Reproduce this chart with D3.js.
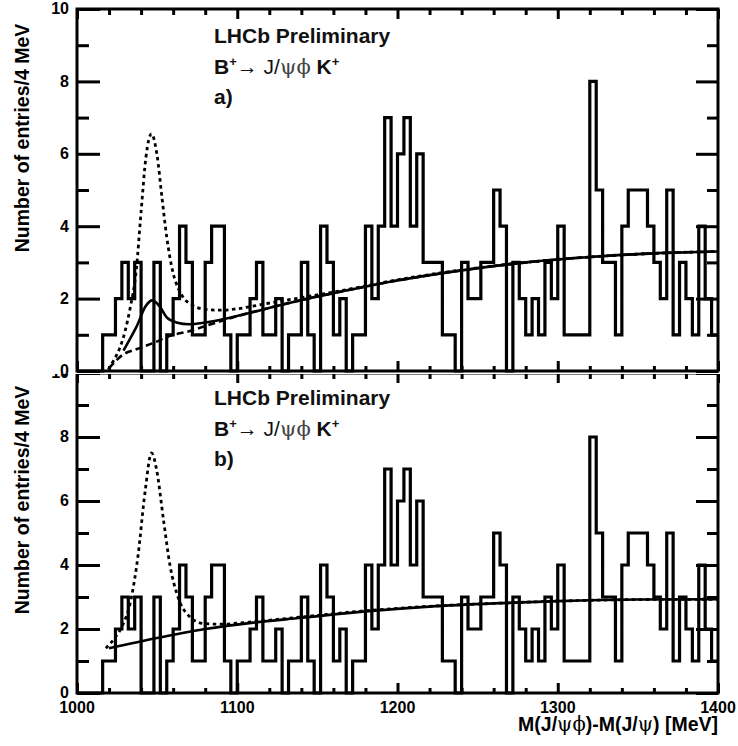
<!DOCTYPE html>
<html><head><meta charset="utf-8">
<script src="https://cdn.jsdelivr.net/npm/d3@7"></script>
<style>body{margin:0;background:#fff}svg{display:block}</style>
</head><body>
<svg id="c" width="738" height="746"></svg>
<script>
// ---- data ----
const binStart = 1000, binWidth = 4;
const counts = [0,0,0,0,1,1,2,3,2,3, 0,0,3,0,1,2,4,3,1,1, 3,4,4,1,0,1,1,2,3,1,
  1,2,0,1,1,3,1,0,4,3, 1,2,0,1,1,4,2,4,7,4, 6,7,4,6,3,3,3,1,1,0,
  3,2,2,3,3,5,4,0,3,2, 1,2,1,3,2,4,1,1,1,1, 8,5,3,3,1,4,5,5,5,4,
  3,2,5,1,3,2,1,4,2,1];
const xMajorTicks = [1000,1100,1200,1300,1400];
const yMajorTicks = [0,2,4,6,8,10];
// panel a fit curves
const bkgA = [[1020,0.08],[1029,0.46],[1037,0.6],[1048,0.78],[1058,0.97],[1070,1.1],[1080,1.24],[1098,1.49],[1118,1.72],[1139,1.95],[1160,2.15],[1200,2.5],[1240,2.78],[1280,3.0],[1320,3.15],[1360,3.25],[1400,3.3]];
const totalA = [[1029,0.56],[1033,0.88],[1037,1.21],[1043,1.8],[1047,1.95],[1052,1.76],[1056,1.48],[1062,1.34],[1070,1.29],[1080,1.34],[1098,1.5],[1118,1.72],[1139,1.95],[1160,2.15],[1200,2.5],[1240,2.78],[1280,3.0],[1320,3.15],[1360,3.25],[1400,3.3]];
const expectA = [[1019.5,0.05],[1023,0.3],[1027,0.67],[1030,1.1],[1033,1.7],[1037,2.8],[1040,4.4],[1043,5.9],[1046.5,6.55],[1050,5.95],[1053,4.8],[1056,3.7],[1060,2.7],[1063,2.3],[1066,2.05],[1072,1.82],[1080,1.7],[1090,1.68],[1100,1.72],[1118,1.86],[1139,2.02],[1160,2.18],[1200,2.52],[1240,2.79],[1280,3.0],[1320,3.15],[1360,3.25],[1400,3.3]];
// panel b fit curves
const bkgB = [[1020,1.4],[1050,1.72],[1080,2.0],[1110,2.2],[1140,2.35],[1180,2.55],[1220,2.7],[1260,2.8],[1300,2.87],[1350,2.92],[1400,2.93]];
const expectB = [[1018,1.4],[1024,1.75],[1028,2.07],[1034,3.0],[1038,4.26],[1042.5,6.3],[1046.5,7.5],[1049.7,6.97],[1054,5.4],[1058,4.0],[1063,3.0],[1070,2.4],[1079,2.17],[1090,2.15],[1104,2.2],[1139,2.37],[1180,2.57],[1220,2.71],[1260,2.8],[1300,2.87],[1350,2.92],[1400,2.93]];

const yTitle = "Number of entries/4 MeV";
const xTitle = ["M(J/", "ψϕ", ")-M(J/", "ψ", ") [MeV]"];

// ---- drawing ----
const svg = d3.select("#c");
const FONT = "'Liberation Sans', Arial, Helvetica, sans-serif";
const SYM = "'DejaVu Serif', serif";
const x = d3.scaleLinear().domain([1000,1400]).range([77,718]);

const histPts = counts.map((c,i)=>[binStart+i*binWidth, c]);
histPts.push([binStart+counts.length*binWidth, counts[counts.length-1]]);

function drawPanel(g, y, opts){
  g.append("rect").attr("x",0).attr("y",opts.bgTop).attr("width",738).attr("height",opts.bgH).attr("fill","#fff");
  const hl = d3.line().x(d=>x(d[0])).y(d=>y(d[1])).curve(d3.curveStepAfter);
  g.append("path").attr("d",hl(histPts)).attr("fill","none").attr("stroke","#000").attr("stroke-width",3.2).attr("stroke-linejoin","miter");
  const cl = d3.line().x(d=>x(d[0])).y(d=>y(d[1])).curve(d3.curveMonotoneX);
  opts.curves.forEach(c=>{
    g.append("path").attr("d",cl(c.data)).attr("fill","none").attr("stroke","#000")
      .attr("stroke-width",c.w).attr("stroke-dasharray",c.dash||null);
  });
  g.append("rect").attr("x",x(1000)).attr("y",y(10)).attr("width",x(1400)-x(1000)).attr("height",y(0)-y(10))
    .attr("fill","none").attr("stroke","#000").attr("stroke-width",3);
  const minorX = d3.range(1000,1401,20).filter(v=>v%100!==0);
  const minorY = d3.range(0,11,1).filter(v=>v%2!==0);
  const axStyle = sel=>{sel.select(".domain").remove(); sel.selectAll("line").attr("stroke","#000").attr("stroke-width",3);};
  g.append("g").attr("transform",`translate(0,${y(0)})`).call(d3.axisBottom(x).tickValues(xMajorTicks).tickSize(-10).tickFormat("")).call(axStyle);
  g.append("g").attr("transform",`translate(0,${y(0)})`).call(d3.axisBottom(x).tickValues(minorX).tickSize(-5).tickFormat("")).call(axStyle);
  g.append("g").attr("transform",`translate(0,${y(10)})`).call(d3.axisTop(x).tickValues(xMajorTicks).tickSize(-10).tickFormat("")).call(axStyle);
  g.append("g").attr("transform",`translate(0,${y(10)})`).call(d3.axisTop(x).tickValues(minorX).tickSize(-6).tickFormat("")).call(axStyle);
  g.append("g").attr("transform",`translate(${x(1000)},0)`).call(d3.axisLeft(y).tickValues(yMajorTicks).tickSize(-23).tickFormat("")).call(axStyle);
  g.append("g").attr("transform",`translate(${x(1000)},0)`).call(d3.axisLeft(y).tickValues(minorY).tickSize(-12).tickFormat("")).call(axStyle);
  g.append("g").attr("transform",`translate(${x(1400)},0)`).call(d3.axisRight(y).tickValues(yMajorTicks).tickSize(-22).tickFormat("")).call(axStyle);
  g.append("g").attr("transform",`translate(${x(1400)},0)`).call(d3.axisRight(y).tickValues(minorY).tickSize(-11).tickFormat("")).call(axStyle);
  g.selectAll("text.yl").data(yMajorTicks).enter().append("text").attr("class","yl")
    .attr("x",69).attr("y",d=>y(d)).attr("dy","0.34em").attr("text-anchor","end")
    .attr("font-family",FONT).attr("font-weight","bold").attr("font-size",16).text(d=>d);
  g.append("text").attr("transform",`translate(29,${opts.titleY}) rotate(-90)`).attr("text-anchor","middle")
    .attr("font-family",FONT).attr("font-weight","bold").attr("font-size",19.5).text(yTitle);
  const t = opts.text;
  g.append("text").attr("x",214).attr("y",t[0]).attr("font-family",FONT).attr("font-weight","bold").attr("font-size",21).attr("fill","#111").text("LHCb Preliminary");
  const l2 = g.append("text").attr("x",214).attr("y",t[1]).attr("font-family",FONT).attr("font-weight","bold").attr("font-size",21).attr("fill","#111");
  l2.append("tspan").text("B");
  l2.append("tspan").attr("dy",-8).attr("font-size",13).text("+");
  l2.append("tspan").attr("dy",8).attr("font-weight","normal").text("→ J/");
  l2.append("tspan").attr("font-weight","normal").attr("font-family",SYM).attr("fill","#444").text("ψϕ");
  l2.append("tspan").text(" K");
  l2.append("tspan").attr("dy",-8).attr("font-size",13).text("+");
  g.append("text").attr("x",214).attr("y",t[2]).attr("font-family",FONT).attr("font-weight","bold").attr("font-size",21).attr("fill","#111").text(opts.tag);
}

const yB = d3.scaleLinear().domain([0,10]).range([693,373]);
const gB = svg.append("g");
drawPanel(gB, yB, {bgTop:372, bgH:374, titleY:500, text:[405,436,466], tag:"b)",
  curves:[{data:bkgB,w:2.6},{data:expectB,w:2.8,dash:"3.5,3.5"}]});
gB.selectAll("text.xl").data(xMajorTicks).enter().append("text").attr("class","xl")
  .attr("x",d=>x(d)).attr("y",713).attr("text-anchor","middle")
  .attr("font-family",FONT).attr("font-weight","bold").attr("font-size",16).text(d=>d);
const xt = gB.append("text").attr("x",718).attr("y",731).attr("text-anchor","end")
  .attr("font-family",FONT).attr("font-weight","bold").attr("font-size",19.5);
xTitle.forEach((s,i)=>{ const ts = xt.append("tspan").text(s); if(i%2===1) ts.attr("font-weight","normal").attr("font-family",SYM); });

const yA = d3.scaleLinear().domain([0,10]).range([371,9]);
const gA = svg.append("g");
drawPanel(gA, yA, {bgTop:0, bgH:374, titleY:138, text:[43,74,104], tag:"a)",
  curves:[{data:bkgA,w:2.6,dash:"7,4"},{data:totalA,w:2.6},{data:expectA,w:2.8,dash:"3.5,3.5"}]});
</script>
</body></html>
